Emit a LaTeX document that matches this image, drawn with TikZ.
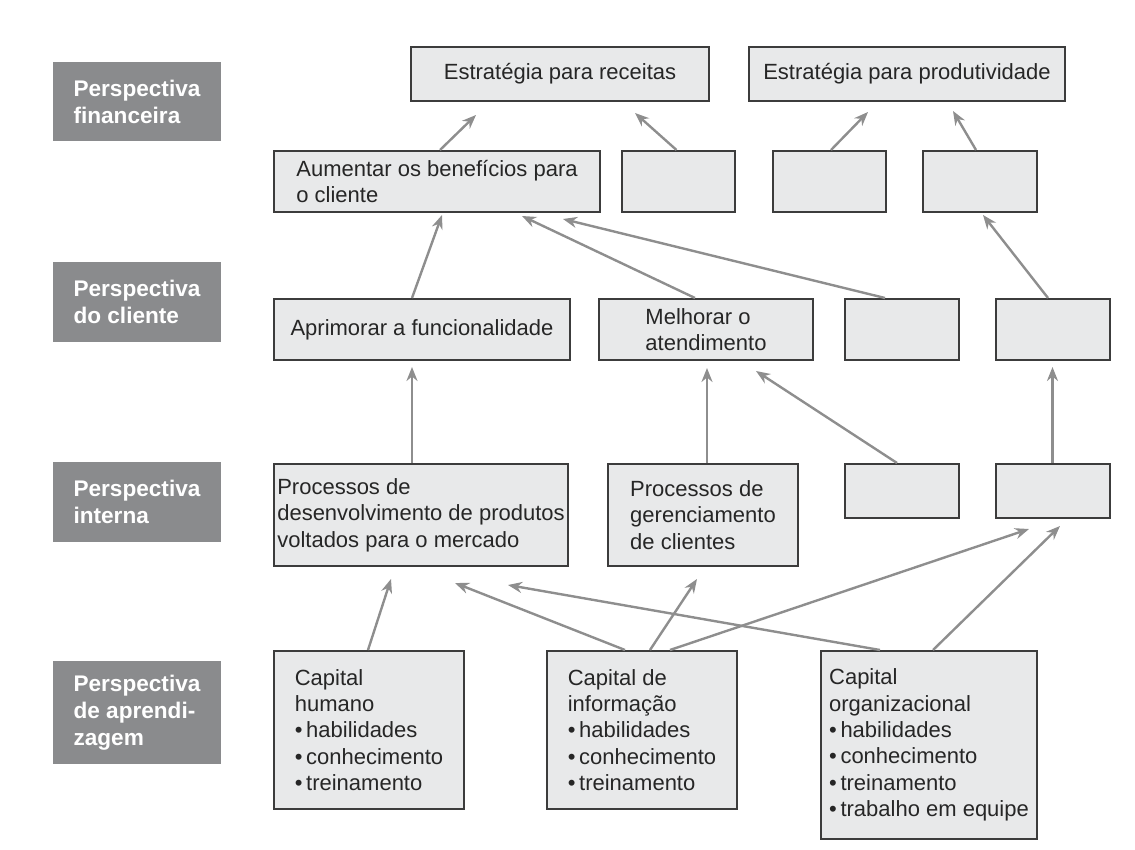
\documentclass[tikz,border=0pt]{standalone}
\usepackage{fontspec}
\setmainfont{Liberation Sans}
\usetikzlibrary{arrows.meta}
\definecolor{cinzaRotulo}{HTML}{8A8B8D}
\definecolor{cinzaCaixa}{HTML}{E8E9EA}
\definecolor{cinzaBorda}{HTML}{3C3C3C}
\definecolor{cinzaSeta}{HTML}{8E8E8E}

\begin{document}
\begin{tikzpicture}[x=0.5pt,y=-0.5pt]
\useasboundingbox (0,0) rectangle (1135,850);
% definição dos estilos
\tikzstyle{rotulo}=[rectangle,fill=cinzaRotulo,text=white,font=\fontsize{11.3}{13.5}\selectfont\bfseries,align=left,minimum width=84pt,inner sep=0pt]
\tikzstyle{caixa}=[rectangle,draw=cinzaBorda,fill=cinzaCaixa,line width=1pt,font=\fontsize{11}{13.2}\selectfont,align=left,inner sep=0pt,text=black!85]
\tikzstyle{seta}=[-{Stealth[length=7pt,width=5.5pt]},draw=cinzaSeta,line width=1.2pt]
% os rótulos das perspectivas
\node[rotulo,minimum height=39.5pt] (pfin) at (137,101.5) {Perspectiva\\financeira};
\node[rotulo,minimum height=40pt] (pcli) at (137,302) {Perspectiva\\do cliente};
\node[rotulo,minimum height=40pt] (pint) at (137,502) {Perspectiva\\interna};
\node[rotulo,minimum height=51.5pt] (papr) at (137,712.5) {Perspectiva\\de aprendi-\\zagem};
% os nós
\node[caixa,minimum width=149pt,minimum height=27pt] (rec) at (560,74) {Estratégia para receitas};
\node[caixa,minimum width=158pt,minimum height=27pt] (prod) at (907,74) {Estratégia para produtividade};
\node[caixa,minimum width=163pt,minimum height=30.5pt] (aum) at (437,181.5) {Aumentar os benefícios para\\o cliente};
\node[caixa,minimum width=56.5pt,minimum height=30.5pt] (fin2) at (678.5,181.5) {};
\node[caixa,minimum width=56.5pt,minimum height=30.5pt] (fin3) at (829.5,181.5) {};
\node[caixa,minimum width=57pt,minimum height=30.5pt] (fin4) at (980,181.5) {};
\node[caixa,minimum width=148pt,minimum height=30.5pt] (apr) at (422,329.5) {Aprimorar a funcionalidade};
\node[caixa,minimum width=107pt,minimum height=30.5pt] (mel) at (706,329.5) {Melhorar o\\atendimento};
\node[caixa,minimum width=57pt,minimum height=30.5pt] (cli3) at (902,329.5) {};
\node[caixa,minimum width=57pt,minimum height=30.5pt] (cli4) at (1052.5,329.5) {};
\node[caixa,minimum width=147pt,minimum height=51pt] (pdev) at (421,515) {Processos de\\desenvolvimento de produtos\\voltados para o mercado};
\node[caixa,minimum width=95pt,minimum height=51pt] (pger) at (703,515) {Processos de\\gerenciamento\\de clientes};
\node[caixa,minimum width=57pt,minimum height=27pt] (int3) at (902,491) {};
\node[caixa,minimum width=57pt,minimum height=27pt] (int4) at (1052.5,491) {};
\node[caixa,minimum width=95pt,minimum height=79pt] (ch) at (369,730) {Capital\\humano\\•\,habilidades\\•\,conhecimento\\•\,treinamento};
\node[caixa,minimum width=95pt,minimum height=79pt] (ci) at (642,730) {Capital de\\informação\\•\,habilidades\\•\,conhecimento\\•\,treinamento};
\node[caixa,minimum width=108pt,minimum height=94pt] (co) at (929,745) {Capital\\organizacional\\•\,habilidades\\•\,conhecimento\\•\,treinamento\\•\,trabalho em equipe};
% as setas
\draw[seta] ([xshift=1.5pt]aum.north) -- ([xshift=-42pt,yshift=-6.5pt]rec.south);
\draw[seta] ([xshift=-1pt]fin2.north) -- ([xshift=37.5pt,yshift=-5.5pt]rec.south);
\draw[seta] ([xshift=0.75pt]fin3.north) -- ([xshift=-19.5pt,yshift=-5pt]prod.south);
\draw[seta] ([xshift=-2pt]fin4.north) -- ([xshift=23pt,yshift=-4.5pt]prod.south);
\draw[seta] ([xshift=-5pt]apr.north) -- ([xshift=2.5pt,yshift=-1pt]aum.south);
\draw[seta] ([xshift=-5.5pt]mel.north) -- ([xshift=42.5pt,yshift=-1.5pt]aum.south);
\draw[seta] ([xshift=-8.5pt]cli3.north) -- ([xshift=63pt,yshift=-3pt]aum.south);
\draw[seta] ([xshift=-2.25pt]cli4.north) -- ([xshift=1.5pt,yshift=-1pt]fin4.south);
\draw[seta] ([xshift=-4.5pt]pdev.north) -- ([xshift=-5pt,yshift=-3pt]apr.south);
\draw[seta] ([xshift=2pt]pger.north) -- ([xshift=0.5pt,yshift=-3.5pt]mel.south);
\draw[seta] ([xshift=-2.5pt]int3.north) -- ([xshift=25pt,yshift=-5pt]mel.south);
\draw[seta] (int4.north) -- ([yshift=-3pt]cli4.south);
\draw[seta] ([xshift=-0.5pt]ch.north) -- ([xshift=-15pt,yshift=-6pt]pdev.south);
\draw[seta] ([xshift=-8.5pt]ci.north) -- ([xshift=17pt,yshift=-8pt]pdev.south);
\draw[seta] ([xshift=-24.5pt]co.north) -- ([xshift=43.5pt,yshift=-9pt]pdev.south);
\draw[seta] ([xshift=4pt]ci.north) -- ([xshift=-3pt,yshift=-6pt]pger.south);
\draw[seta] ([xshift=14pt]ci.north) -- ([xshift=-11.75pt,yshift=-5pt]int4.south);
\draw[seta] ([xshift=2pt]co.north) -- ([xshift=3.75pt,yshift=-3.5pt]int4.south);
\end{tikzpicture}
\end{document}
